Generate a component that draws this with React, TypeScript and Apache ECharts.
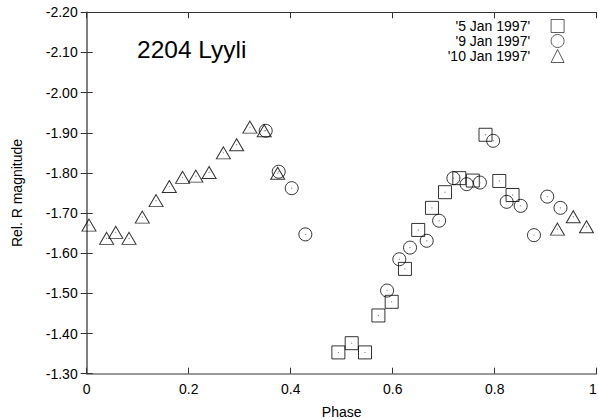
import React, { useEffect, useRef } from "react";
import * as echarts from "echarts";

const phase5 = [0.4935, 0.5196, 0.5457, 0.572, 0.598, 0.624, 0.65, 0.677, 0.7026, 0.7306, 0.757, 0.782, 0.809, 0.835];
const mag5 = [-1.353, -1.376, -1.353, -1.445, -1.479, -1.561, -1.658, -1.713, -1.752, -1.787, -1.781, -1.895, -1.78, -1.745];

const phase9 = [0.351, 0.3765, 0.402, 0.4287, 0.589, 0.613, 0.634, 0.6667, 0.691, 0.719, 0.745, 0.771, 0.797, 0.8235, 0.851, 0.877, 0.903, 0.929];
const mag9 = [-1.905, -1.803, -1.762, -1.647, -1.507, -1.585, -1.614, -1.631, -1.681, -1.787, -1.772, -1.776, -1.88, -1.728, -1.718, -1.645, -1.741, -1.713];

const phase10 = [0.0045, 0.039, 0.057, 0.083, 0.109, 0.136, 0.162, 0.188, 0.214, 0.24, 0.268, 0.294, 0.32, 0.348, 0.3745, 0.923, 0.954, 0.98];
const mag10 = [-1.67, -1.637, -1.652, -1.637, -1.69, -1.731, -1.766, -1.789, -1.792, -1.801, -1.85, -1.87, -1.914, -1.905, -1.799, -1.66, -1.691, -1.666];

const seriesNames = ["'5 Jan 1997'", "'9 Jan 1997'", "'10 Jan 1997'"];
const titleText = "2204 Lyyli";
const xName = "Phase";
const yName = "Rel. R magnitude";

const FONT = "'Liberation Sans', Arial, Helvetica, sans-serif";

function pairs(xs: number[], ys: number[]) {
  return xs.map((x, i) => [x, ys[i]]);
}

export default function App() {
  const ref = useRef<HTMLDivElement>(null);
  useEffect(() => {
    if (!ref.current) return;
    const chart = echarts.init(ref.current, undefined, { renderer: "svg" });
    const markStyle = { color: "rgba(0,0,0,0)", borderColor: "#000", borderWidth: 1 };
    const allDots = [...pairs(phase5, mag5), ...pairs(phase9, mag9), ...pairs(phase10, mag10)];
    const tickStyle = { show: true, inside: true, length: 6, lineStyle: { color: "#333", width: 1 } };
    chart.setOption({
      animation: false,
      backgroundColor: "#fff",
      textStyle: { fontFamily: FONT },
      grid: {
        left: 86.7,
        right: 1.3,
        top: 12.3,
        bottom: 45.3,
        containLabel: false,
        outerBoundsMode: "none",
      },
      legend: {
        orient: "vertical",
        align: "right",
        right: 33.5,
        top: 19,
        padding: 0,
        itemWidth: 13,
        itemHeight: 13,
        itemGap: 1,
        data: seriesNames,
        itemStyle: { color: "rgba(0,0,0,0)", borderColor: "#000", borderWidth: 0.8 },
        textStyle: {
          fontSize: 14,
          lineHeight: 13,
          height: 13,
          color: "#000",
          fontFamily: FONT,
          padding: [0, 16, 0, 0],
        },
        selectedMode: false,
      },
      graphic: [
        {
          type: "text",
          left: 137,
          top: 37,
          style: { text: titleText, fontSize: 24.5, fill: "#000", fontFamily: FONT },
        },
      ],
      xAxis: [
        {
          type: "value",
          min: 0,
          max: 1,
          interval: 0.2,
          position: "bottom",
          name: xName,
          nameLocation: "middle",
          nameGap: 31,
          nameTextStyle: { fontSize: 14, color: "#000", fontFamily: FONT },
          axisLine: { show: true, lineStyle: { color: "#777", width: 1.5 } },
          axisTick: tickStyle,
          splitLine: { show: false },
          axisLabel: {
            fontSize: 14,
            color: "#000",
            fontFamily: FONT,
            margin: 8,
            alignMaxLabel: "right",
            formatter: (v: number) => (v === 0 ? "0" : v === 1 ? "1" : v.toFixed(1)),
          },
        },
        {
          type: "value",
          min: 0,
          max: 1,
          interval: 0.2,
          position: "top",
          axisLine: { show: true, lineStyle: { color: "#333", width: 1 } },
          axisTick: tickStyle,
          axisLabel: { show: false },
          splitLine: { show: false },
        },
      ],
      yAxis: [
        {
          type: "value",
          min: -2.2,
          max: -1.3,
          interval: 0.1,
          inverse: true,
          position: "left",
          name: yName,
          nameLocation: "middle",
          nameGap: 63,
          nameRotate: 90,
          nameTextStyle: { fontSize: 14, color: "#000", fontFamily: FONT },
          axisLine: { show: true, lineStyle: { color: "#777", width: 1.5 } },
          axisTick: tickStyle,
          splitLine: { show: false },
          axisLabel: {
            fontSize: 14,
            color: "#000",
            fontFamily: FONT,
            margin: 9,
            formatter: (v: number) => v.toFixed(2),
          },
        },
        {
          type: "value",
          min: -2.2,
          max: -1.3,
          interval: 0.1,
          inverse: true,
          position: "right",
          axisLine: { show: true, lineStyle: { color: "#777", width: 1.5 } },
          axisTick: tickStyle,
          axisLabel: { show: false },
          splitLine: { show: false },
        },
      ],
      series: [
        {
          name: seriesNames[0],
          type: "scatter",
          symbol: "rect",
          symbolSize: 13,
          itemStyle: markStyle,
          data: pairs(phase5, mag5),
        },
        {
          name: seriesNames[1],
          type: "scatter",
          symbol: "circle",
          symbolSize: 13,
          itemStyle: markStyle,
          data: pairs(phase9, mag9),
        },
        {
          name: seriesNames[2],
          type: "scatter",
          symbol: "triangle",
          symbolSize: [14, 12],
          itemStyle: markStyle,
          data: pairs(phase10, mag10),
        },
        {
          name: "dots",
          type: "scatter",
          symbol: "circle",
          symbolSize: 1.2,
          silent: true,
          itemStyle: { color: "#666" },
          data: allDots,
        },
      ],
    });
    return () => chart.dispose();
  }, []);
  return (
    <div style={{ position: "fixed", left: 0, top: 0, width: 598, height: 419, background: "#fff" }}>
      <div ref={ref} style={{ width: 598, height: 419 }} />
    </div>
  );
}
